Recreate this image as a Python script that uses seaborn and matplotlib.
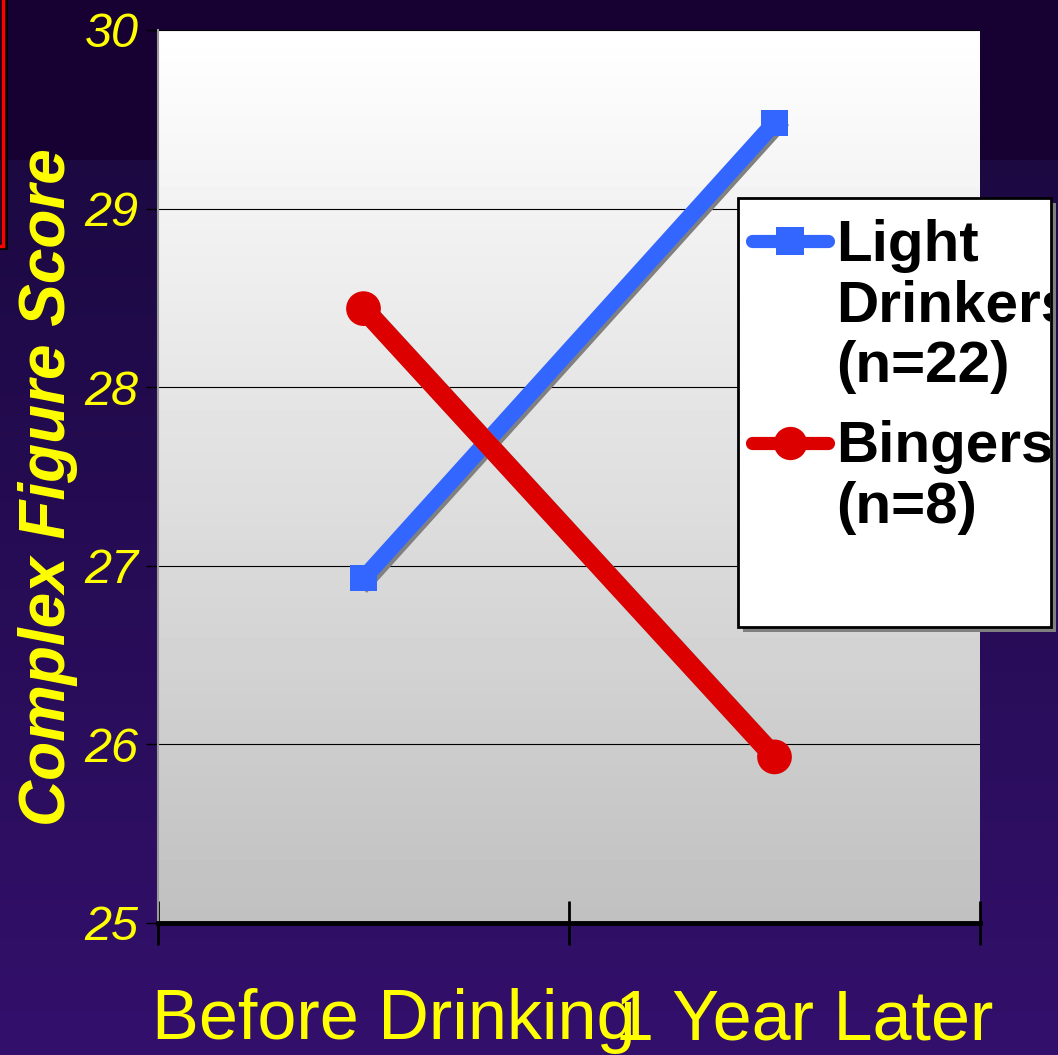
import numpy as np
import pandas as pd
import matplotlib
matplotlib.use("Agg")
import matplotlib.pyplot as plt
import matplotlib.patheffects as pe
from matplotlib.lines import Line2D
from matplotlib.patches import Rectangle
from matplotlib.transforms import Bbox, TransformedBbox, ScaledTranslation
import seaborn as sns

# datos
phases = ["Before Drinking", "1 Year Later"]
light_scores = [26.93, 29.48]
binger_scores = [28.44, 25.93]
group_labels = ["Light\nDrinkers\n(n=22)", "Bingers\n(n=8)"]
y_ticks = [25, 26, 27, 28, 29, 30]

BLUE = "#3366ff"
RED = "#dd0000"
YELLOW = "#ffff00"
FONT = "Liberation Sans"

plt.rcParams["font.family"] = [FONT, "DejaVu Sans"]

df = pd.DataFrame({
    "pos": list(range(len(phases))) * 2,
    "score": light_scores + binger_scores,
    "group": [group_labels[0]] * len(phases) + [group_labels[1]] * len(phases),
})

W, H = 1058, 1055
fig = plt.figure(figsize=(W / 100, H / 100), dpi=100)

# fondo morado con degradado
bg = fig.add_axes([0, 0, 1, 1], zorder=-10)
bg.axis("off")
rows = np.linspace(0, 1, H)
top = np.array([0x17, 0x00, 0x32]) / 255
c1 = np.array([0x1c, 0x09, 0x42]) / 255
c2 = np.array([0x33, 0x10, 0x6c]) / 255
grad = np.zeros((H, 1, 3))
cut = 160 / H
for i, r in enumerate(rows):
    if r < cut:
        grad[i, 0] = top
    else:
        t = (r - cut) / (1 - cut)
        grad[i, 0] = c1 + (c2 - c1) * t
bg.imshow(grad, aspect="auto", extent=[0, 1, 0, 1], origin="upper")
bg.set_xlim(0, 1)
bg.set_ylim(0, 1)

# trozo de caja roja arriba a la izquierda
bg.add_patch(Rectangle((-0.2, 1 - 246 / H), 0.2 + 4 / W, 0.5, fill=False,
                       edgecolor="black", lw=5, transform=bg.transAxes, clip_on=False))
bg.add_patch(Rectangle((-0.2, 1 - 246 / H), 0.2 + 3 / W, 0.5, fill=False,
                       edgecolor="#ff0000", lw=2.5, transform=bg.transAxes, clip_on=False))

ax = fig.add_axes([158 / W, 1 - 923 / H, (980 - 158) / W, (923 - 30) / H])
ax.set_facecolor("none")
plot_grad = np.linspace(1.0, 0.753, 256)[:, None]
ax.imshow(plot_grad, cmap="gray", vmin=0, vmax=1, aspect="auto",
          extent=[0, 1, 0, 1], transform=ax.transAxes, zorder=-5)

sns.lineplot(data=df, x="pos", y="score", hue="group", palette=[BLUE, RED],
             style="group", markers=["s", "o"], dashes=False, legend=False,
             markeredgewidth=0, ax=ax)

shadow = [pe.SimpleLineShadow(offset=(2, -2), shadow_color="#808080", alpha=1.0), pe.Normal()]
for line, lw, ms in zip(ax.lines, [12, 14.5], [19, 25]):
    line.set_linewidth(lw)
    line.set_markersize(ms)
    line.set_path_effects(shadow)
ax.lines[1].set_zorder(3)

ax.set_xlim(-0.5, len(phases) - 0.5)
ax.set_ylim(y_ticks[0], y_ticks[-1])
ax.set_yticks(y_ticks)
ax.set_yticklabels([str(v) for v in y_ticks], fontsize=35, style="italic", color=YELLOW)
ax.tick_params(axis="y", length=9, width=1, color="black", pad=5)
ax.yaxis.grid(True, color="black", lw=0.8)
ax.set_axisbelow(True)

ax.set_xticks(np.arange(-0.5, len(phases)))
ax.set_xticklabels([])
ax.set_xticks(range(len(phases)), minor=True)
ax.set_xticklabels(phases, minor=True, fontsize=50.5, color=YELLOW)
ax.tick_params(axis="x", which="major", direction="inout", length=32, width=2, color="black")
ax.tick_params(axis="x", which="minor", length=0, pad=47)
offset = ScaledTranslation(0.30, 0, fig.dpi_scale_trans)
for lab in ax.xaxis.get_minorticklabels():
    lab.set_transform(lab.get_transform() + offset)

for s in ["top", "right"]:
    ax.spines[s].set_visible(False)
ax.spines["left"].set_color("#9a9a9a")
ax.spines["left"].set_linewidth(1.5)
ax.spines["bottom"].set_color("black")
ax.spines["bottom"].set_linewidth(3.5)

ax.set_ylabel("Complex Figure Score", fontsize=46, fontweight="bold", style="italic",
              color=YELLOW, va="center")
ax.yaxis.set_label_coords((48 - 158) / 822, (923 - 487) / 893)

# leyenda con marco propio y texto recortado
lx0, lx1, ly0, ly1 = 738 / W, 1051 / W, 1 - 627 / H, 1 - 198 / H
ax.add_patch(Rectangle((lx0 + 5 / W, ly0 - 5 / H), lx1 - lx0, ly1 - ly0, facecolor="#808080",
                       edgecolor="none", transform=fig.transFigure, clip_on=False, zorder=6))
ax.add_patch(Rectangle((lx0, ly0), lx1 - lx0, ly1 - ly0, facecolor="white", edgecolor="black",
                       lw=2, transform=fig.transFigure, clip_on=False, zorder=7))

handles = [
    Line2D([], [], color=BLUE, lw=9.5, marker="s", markersize=20, markeredgewidth=0,
           solid_capstyle="round"),
    Line2D([], [], color=RED, lw=9.5, marker="o", markersize=24, markeredgewidth=0,
           solid_capstyle="round"),
]
leg = ax.legend(handles, group_labels, loc="upper left",
                bbox_to_anchor=(lx0 + 5 / W, ly1 - 12 / H),
                bbox_transform=fig.transFigure, frameon=False, numpoints=1,
                prop={"family": FONT, "weight": "bold", "size": 42},
                handlelength=1.3, handleheight=0.95, handletextpad=0.15,
                borderpad=0.15, borderaxespad=0, labelspacing=0.45)
leg.set_zorder(8)
for col in leg._legend_handle_box.get_children():
    for row in col.get_children():
        row.align = "top"
clip = TransformedBbox(Bbox.from_extents(lx0, ly0, lx1 - 1 / W, ly1), fig.transFigure)
for t in leg.get_texts():
    t.set_linespacing(1.16)
    t.set_color("black")
    t.set_clip_box(clip)
    t.set_clip_on(True)

fig.savefig("out.png", dpi=100)
